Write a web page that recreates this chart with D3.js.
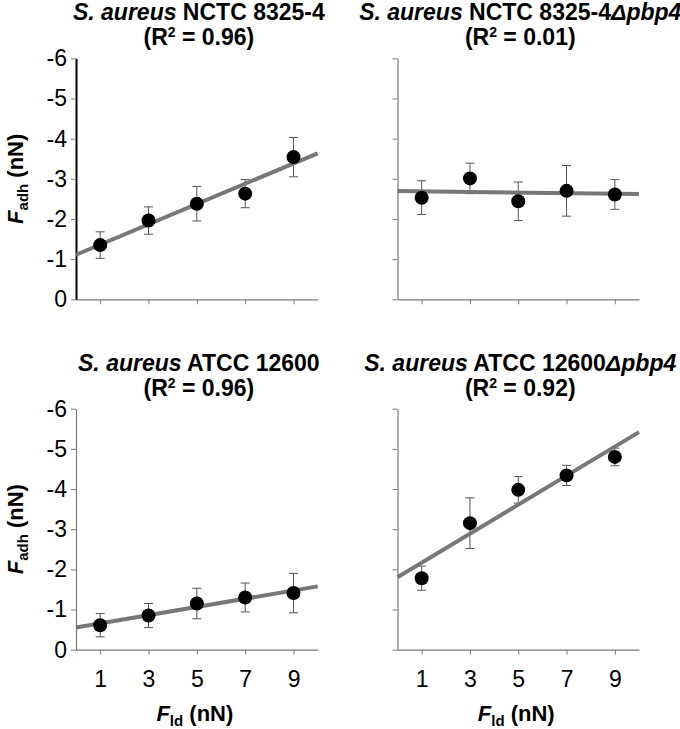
<!DOCTYPE html>
<html><head><meta charset="utf-8">
<script src="https://cdn.jsdelivr.net/npm/d3@7"></script>
<style>
body{margin:0;background:#fff}
svg{display:block;font-family:"Liberation Sans",Arial,Helvetica,sans-serif}
</style>
</head><body>
<svg id="c" width="680" height="729"></svg>
<script>
// ---------- data ----------
const xLoads = [1, 3, 5, 7, 9];
const xTickLabels = ["1", "3", "5", "7", "9"];
const yTicks = [0, -1, -2, -3, -4, -5, -6];
const yTickLabels = ["0", "-1", "-2", "-3", "-4", "-5", "-6"];
const speciesName = "S. aureus";
const strainNames = ["NCTC 8325-4", "NCTC 8325-4", "ATCC 12600", "ATCC 12600"];
const mutantTags = ["", "Δpbp4", "", "Δpbp4"];
const rSquared = ["0.96", "0.01", "0.96", "0.92"];

const adhNCTC = [-1.35, -1.96, -2.38, -2.63, -3.54];
const sdNCTC = [0.33, 0.34, 0.43, 0.35, 0.49];
const adhNCTCpbp4 = [-2.53, -3.01, -2.44, -2.70, -2.61];
const sdNCTCpbp4 = [0.42, 0.38, 0.48, 0.63, 0.37];
const adhATCC = [-0.61, -0.85, -1.15, -1.30, -1.41];
const sdATCC = [0.29, 0.30, 0.38, 0.36, 0.49];
const adhATCCpbp4 = [-1.78, -3.15, -3.98, -4.34, -4.80];
const sdATCCpbp4 = [0.30, 0.63, 0.33, 0.25, 0.22];

const seriesMeans = [adhNCTC, adhNCTCpbp4, adhATCC, adhATCCpbp4];
const seriesSD = [sdNCTC, sdNCTCpbp4, sdATCC, sdATCCpbp4];

// ---------- layout ----------
const svg = d3.select("#c");
const cols = [{x0: 76, x1: 317.7}, {x0: 397.5, x1: 639}];
const rows = [{yTop: 58.3, yBot: 299.3}, {yTop: 408.7, yBot: 649.7}];
const axisGray = "#7a7a7a";
const lineGray = "#777777";
const FONT = "'Liberation Sans',Arial,sans-serif";

function fit(xs, ys) {
  const mx = d3.mean(xs), my = d3.mean(ys);
  let num = 0, den = 0;
  xs.forEach((x, i) => { num += (x - mx) * (ys[i] - my); den += (x - mx) * (x - mx); });
  const b = num / den;
  return {a: my - b * mx, b: b};
}

for (let p = 0; p < 4; p++) {
  const col = cols[p % 2], row = rows[Math.floor(p / 2)];
  const isLeft = p % 2 === 0, isBottom = p >= 2;
  const x = d3.scaleLinear().domain([0, 10]).range([col.x0, col.x1]);
  const y = d3.scaleLinear().domain([0, -6]).range([row.yBot, row.yTop]);
  const g = svg.append("g");

  // x axis
  const xa = g.append("g").attr("transform", `translate(0,${row.yBot})`)
    .call(d3.axisBottom(x).tickValues(xLoads).tickSize(5).tickSizeOuter(0).tickPadding(16)
      .tickFormat((d, i) => isBottom ? xTickLabels[i] : ""));
  xa.select(".domain").attr("stroke", axisGray).attr("stroke-width", 1.2);
  xa.selectAll(".tick line").attr("stroke", axisGray);
  xa.selectAll(".tick text").attr("font-size", 23).attr("fill", "#000").attr("font-family", FONT);

  // y axis
  const ya = g.append("g").attr("transform", `translate(${col.x0},0)`)
    .call(d3.axisLeft(y).tickValues(yTicks).tickSize(5).tickSizeOuter(0).tickPadding(4)
      .tickFormat((d, i) => isLeft ? yTickLabels[i] : ""));
  const yAxisBlack = p === 0;
  ya.select(".domain").attr("stroke", yAxisBlack ? "#000" : axisGray).attr("stroke-width", yAxisBlack ? 2 : 1.2);
  ya.selectAll(".tick line").attr("stroke", axisGray);
  ya.selectAll(".tick text").attr("font-size", 23).attr("fill", "#000").attr("font-family", FONT);

  const means = seriesMeans[p], sds = seriesSD[p];
  const pts = xLoads.map((xv, i) => ({x: xv, m: means[i], sd: sds[i]}));

  // error bars
  const eb = g.append("g").attr("stroke", "#555").attr("stroke-width", 1).attr("fill", "none");
  pts.forEach(d => {
    const cx = x(d.x), yt = y(d.m - d.sd), yb = y(d.m + d.sd);
    eb.append("line").attr("x1", cx).attr("x2", cx).attr("y1", yt).attr("y2", yb);
    eb.append("line").attr("x1", cx - 4.5).attr("x2", cx + 4.5).attr("y1", yt).attr("y2", yt);
    eb.append("line").attr("x1", cx - 4.5).attr("x2", cx + 4.5).attr("y1", yb).attr("y2", yb);
  });

  // regression line
  const f = fit(xLoads, means);
  g.append("line")
    .attr("x1", x(0)).attr("y1", y(f.a))
    .attr("x2", x(10)).attr("y2", y(f.a + f.b * 10))
    .attr("stroke", lineGray).attr("stroke-width", 4);

  // dots
  g.selectAll("circle.dot").data(pts).join("circle")
    .attr("class", "dot")
    .attr("cx", d => x(d.x)).attr("cy", d => y(d.m)).attr("r", 7).attr("fill", "#000");

  // title
  const cx = (col.x0 + col.x1) / 2 + 2;
  const t1 = g.append("text").attr("x", cx).attr("y", row.yTop - 38)
    .attr("text-anchor", "middle").attr("font-size", 23).attr("font-weight", "bold");
  t1.append("tspan").attr("font-style", "italic").text(speciesName);
  t1.append("tspan").text(" " + strainNames[p]);
  if (mutantTags[p]) t1.append("tspan").attr("font-style", "italic").text(mutantTags[p]);

  const t2 = g.append("text").attr("x", cx).attr("y", row.yTop - 13)
    .attr("text-anchor", "middle").attr("font-size", 23).attr("font-weight", "bold");
  t2.append("tspan").text("(R");
  t2.append("tspan").attr("font-size", 14).attr("dy", -8).text("2");
  t2.append("tspan").attr("dy", 8).text(" = " + rSquared[p] + ")");

  // y label
  if (isLeft) {
    const yl = g.append("text")
      .attr("transform", `translate(23,${(row.yTop + row.yBot) / 2}) rotate(-90)`)
      .attr("text-anchor", "middle").attr("font-size", 22).attr("font-weight", "bold");
    yl.append("tspan").attr("font-style", "italic").text("F");
    yl.append("tspan").attr("font-size", 15).attr("dy", 5).text("adh");
    yl.append("tspan").attr("dy", -5).text(" (nN)");
  }
  // x label
  if (isBottom) {
    const xl = g.append("text").attr("x", cx - 4).attr("y", 721)
      .attr("text-anchor", "middle").attr("font-size", 22).attr("font-weight", "bold");
    xl.append("tspan").attr("font-style", "italic").text("F");
    xl.append("tspan").attr("font-size", 15).attr("dy", 5).text("ld");
    xl.append("tspan").attr("dy", -5).text(" (nN)");
  }
}
</script>
</body></html>
